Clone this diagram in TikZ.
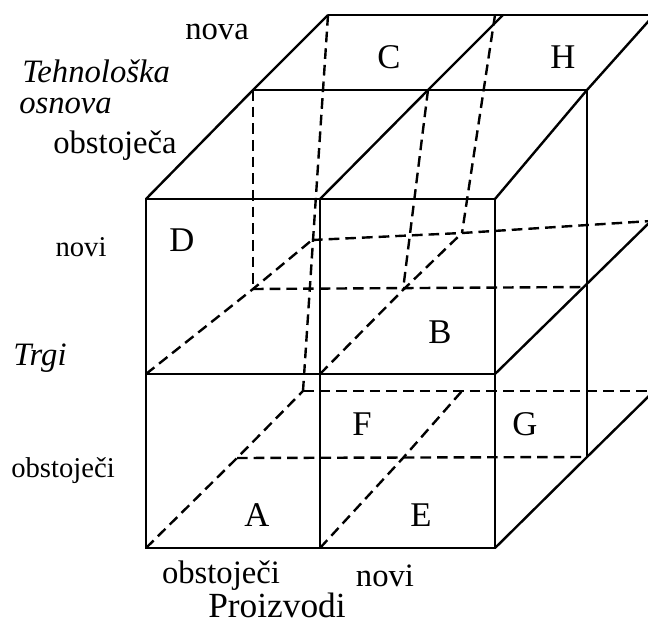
\documentclass[tikz,border=0pt]{standalone}
\usepackage{fontspec}
\setmainfont{Liberation Serif}[ItalicFont={Liberation Serif Italic}]
\begin{document}
\begin{tikzpicture}[x=0.75pt,y=-0.75pt,
  edge/.style={line width=1.8pt},
  hidden/.style={line width=1.8pt,dash pattern=on 8pt off 4.5pt},
  axis/.style={inner sep=0pt,font=\fontsize{24.5}{29}\selectfont},
  axisit/.style={inner sep=0pt,font=\fontsize{24.5}{29}\selectfont\itshape},
  level/.style={inner sep=0pt,font=\fontsize{21.5}{26}\selectfont},
  cell/.style={inner sep=0pt,font=\fontsize{26}{30}\selectfont}]
\useasboundingbox (0,0) rectangle (648,623);

% lattice points: f = front, m = middle, b = back layer;
% first digit = column (left to right), second digit = row (bottom to top)
\coordinate (f00) at (146,548);
\coordinate (f10) at (320,548);
\coordinate (f20) at (495,548);
\coordinate (f01) at (146,374);
\coordinate (f11) at (320,374);
\coordinate (f21) at (495,374);
\coordinate (f02) at (146,199);
\coordinate (f12) at (320,199);
\coordinate (f22) at (495,199);

\coordinate (m00) at (237,458);
\coordinate (m10) at (403,458);
\coordinate (m20) at (587,457);
\coordinate (m01) at (253,289);
\coordinate (m11) at (403,290);
\coordinate (m21) at (587,287);
\coordinate (m02) at (253,90);
\coordinate (m12) at (428,90);
\coordinate (m22) at (587,90);

\coordinate (b00) at (303,391);
\coordinate (b10) at (462,391);
\coordinate (b20) at (654,391);
\coordinate (b01) at (312,240);
\coordinate (b11) at (462,233);
\coordinate (b21) at (651,221);
\coordinate (b02) at (328,15);
\coordinate (b12) at (503,15);
\coordinate (b12h) at (495,15);
\coordinate (b22) at (654,15);

\begin{scope}
\clip (0,0) rectangle (648,623);
% hidden edges
\draw[hidden] (m02) -- (m01);
\draw[hidden] (m12) -- (m11);
\draw[hidden] (b02) -- (b00);
\draw[hidden] (b12h) -- (b11);
\draw[hidden] (m01) -- (m21);
\draw[hidden] (b01) -- (b11) -- (b21);
\draw[hidden] (m00) -- (m20);
\draw[hidden] (b00) -- (b20);
\draw[hidden] (f01) -- (m01) -- (b01);
\draw[hidden] (f11) -- (m11) -- (b11);
\draw[hidden] (f00) -- (m00) -- (b00);
\draw[hidden] (f10) -- (m10) -- (b10);

% visible edges
\draw[edge] (f00) rectangle (f22);
\draw[edge] (f10) -- (f12);
\draw[edge] (f01) -- (f21);
\draw[edge] (f02) -- (m02) -- (b02);
\draw[edge] (f12) -- (m12) -- (b12);
\draw[edge] (f22) -- (m22) -- (b22);
\draw[edge] (m02) -- (m22);
\draw[edge] (b02) -- (b22);
\draw[edge] (f21) -- (b21);
\draw[edge] (f20) -- (m20) -- (b20);
\draw[edge] (m22) -- (m20);
\end{scope}

% axis labels
\node[axis] (tnova) at (217,32) {nova};
\node[axisit,anchor=west] (tteh) at (22,71) {Tehnološka};
\node[axisit,anchor=west] (tosn) at (19,106) {osnova};
\node[axis] (tobsa) at (115,146) {obstoječa};
\node[level] (tnovi) at (81,247) {novi};
\node[axisit] (ttrgi) at (40,358) {Trgi};
\node[level] (tobsi) at (63,471) {obstoječi};
\node[axis] (pobs) at (221,576) {obstoječi};
\node[axis] (pnovi) at (385,576) {novi};
\node[axis,font=\fontsize{26.5}{31}\selectfont] (pproi) at (277,605) {Proizvodi};

% cell letters
\node[cell] (cC) at (389,57) {C};
\node[cell] (cH) at (563,57) {H};
\node[cell] (cD) at (182,240) {D};
\node[cell] (cB) at (440,332) {B};
\node[cell] (cF) at (362,424) {F};
\node[cell] (cG) at (525,424) {G};
\node[cell] (cA) at (257,515) {A};
\node[cell] (cE) at (421,515) {E};
\end{tikzpicture}
\end{document}
